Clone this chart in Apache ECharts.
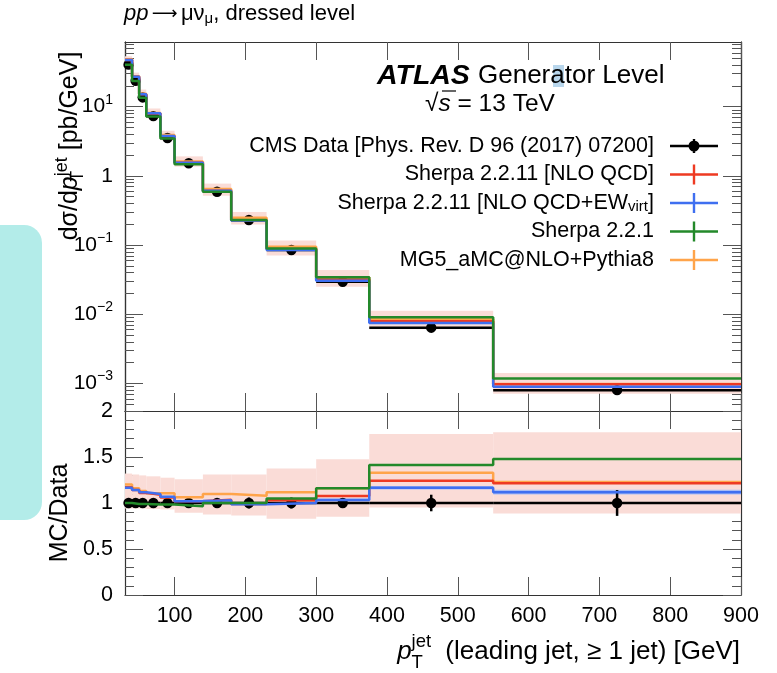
<!DOCTYPE html>
<html>
<head>
<meta charset="utf-8">
<script src="https://cdn.jsdelivr.net/npm/echarts@6/dist/echarts.min.js"></script>
<style>
html, body { margin: 0; padding: 0; background: #fff; }
#chart { width: 777px; height: 673px; }
</style>
</head>
<body>
<div id="chart"></div>
<script>
const FONT = '"Liberation Sans", Arial, Helvetica, sans-serif'

// leading jet pT bins [GeV]
const binEdges = [30, 40, 50, 60, 80, 100, 140, 180, 230, 300, 375, 550, 900]
// CMS data, dsigma/dpT [pb/GeV] and relative uncertainty
const cmsXsec = [40.5, 23.7, 13.6, 7.3, 3.52, 1.52, 0.59, 0.23, 0.085, 0.0295, 0.0064, 0.0008]
const cmsRelErr = [0.055, 0.05, 0.04, 0.03, 0.03, 0.04, 0.04, 0.06, 0.06, 0.05, 0.09, 0.14]
// MC / Data per bin
const ratioSherpaQCD = [1.17, 1.14, 1.11, 1.09, 1.06, 1.02, 1.035, 0.99, 1.03, 1.076, 1.243, 1.214]
const ratioSherpaEW = [1.166, 1.141, 1.116, 1.098, 1.068, 1.02, 1.03, 0.986, 1.0, 1.033, 1.166, 1.118]
const ratioSherpaEWErr = [0.01, 0.01, 0.01, 0.01, 0.01, 0.01, 0.01, 0.01, 0.01, 0.015, 0.02, 0.025]
const ratioSherpa221 = [1.0, 0.99, 0.99, 0.985, 0.985, 0.965, 1.0, 1.0, 1.05, 1.16, 1.413, 1.478]
const ratioMG5 = [1.2, 1.16, 1.13, 1.105, 1.105, 1.062, 1.098, 1.08, 1.116, 1.16, 1.33, 1.228]
// Sherpa 2.2.11 [NLO QCD] uncertainty band (ratio)
const bandLow = [0.94, 0.94, 0.94, 0.935, 0.93, 0.895, 0.875, 0.865, 0.83, 0.85, 0.95, 0.885]
const bandHigh = [1.32, 1.31, 1.3, 1.29, 1.275, 1.258, 1.31, 1.31, 1.375, 1.475, 1.75, 1.768]

const xTicks = [100, 200, 300, 400, 500, 600, 700, 800, 900]
const logMajor = [0.001, 0.01, 0.1, 1, 10]
const logMinor = []
logMajor.concat([1e-4]).forEach(d => { for (let k = 2; k <= 9; k++) logMinor.push(+(d * k).toPrecision(3)) })
const xsecRange = [4e-4, 86]
const ratioRange = [0, 2]

const NAMES = {
  cms: 'CMS Data [Phys. Rev. D 96 (2017) 07200]',
  qcd: 'Sherpa 2.2.11 [NLO QCD]',
  ew: 'Sherpa 2.2.11 [NLO QCD+EW_virt]',
  s221: 'Sherpa 2.2.1',
  mg5: 'MG5_aMC@NLO+Pythia8',
}
const COLORS = { qcd: '#ee3a22', ew: '#3f6ff0', s221: '#23892a', mg5: '#ffa44a' }

const nBins = binEdges.length - 1
const binCentres = binEdges.slice(0, -1).map((e, i) => (e + binEdges[i + 1]) / 2)

function stepPoints(vals) {
  const pts = vals.map((v, i) => [binEdges[i], v])
  pts.push([binEdges[nBins], vals[nBins - 1]])
  return pts
}
function times(a, b) { return a.map((v, i) => v * b[i]) }

function bandRender(fill) {
  return function (params, api) {
    const p0 = api.coord([api.value(0), api.value(3)])
    const p1 = api.coord([api.value(1), api.value(2)])
    return {
      type: 'rect',
      shape: { x: p0[0], y: p0[1], width: p1[0] - p0[0], height: p1[1] - p0[1] },
      style: { fill: fill },
    }
  }
}
function dataRender(params, api) {
  const a = api.coord([api.value(0), api.value(3)])
  const b = api.coord([api.value(1), api.value(3)])
  const c = api.coord([api.value(2), api.value(3)])
  const lo = api.coord([api.value(2), api.value(4)])
  const hi = api.coord([api.value(2), api.value(5)])
  return {
    type: 'group',
    children: [
      { type: 'line', shape: { x1: a[0], y1: a[1], x2: b[0], y2: b[1] }, style: { stroke: '#000', lineWidth: 2.5 } },
      { type: 'line', shape: { x1: c[0], y1: lo[1], x2: c[0], y2: hi[1] }, style: { stroke: '#000', lineWidth: 2.5 } },
      { type: 'circle', shape: { cx: c[0], cy: c[1], r: 5.2 }, style: { fill: '#000' } },
    ],
  }
}

function bandData(centre, lo, hi) {
  return centre.map((v, i) => [binEdges[i], binEdges[i + 1], v * lo[i], v * hi[i]])
}
function ones(n) { return new Array(n).fill(1) }

const topBand = bandData(cmsXsec, bandLow, bandHigh)
const botBand = bandData(ones(nBins), bandLow, bandHigh)
const ewLo = ratioSherpaEW.map((v, i) => v - ratioSherpaEWErr[i])
const ewHi = ratioSherpaEW.map((v, i) => v + ratioSherpaEWErr[i])
const topEwBand = bandData(cmsXsec, ewLo, ewHi)
const botEwBand = bandData(ones(nBins), ewLo, ewHi)
const topCms = cmsXsec.map((v, i) => [binEdges[i], binEdges[i + 1], binCentres[i], v, v * (1 - cmsRelErr[i]), v * (1 + cmsRelErr[i])])
const botCms = cmsXsec.map((v, i) => [binEdges[i], binEdges[i + 1], binCentres[i], 1, 1 - cmsRelErr[i], 1 + cmsRelErr[i]])

function stepSeries(key, ratio, top) {
  return {
    name: NAMES[key],
    type: 'line',
    step: 'end',
    xAxisIndex: top ? 0 : 2,
    yAxisIndex: top ? 0 : 4,
    symbol: 'none',
    lineStyle: { color: COLORS[key], width: 2.5 },
    itemStyle: { color: COLORS[key] },
    animation: false,
    data: stepPoints(top ? times(cmsXsec, ratio) : ratio),
  }
}
function customSeries(name, data, top, render, color) {
  return {
    name: name,
    type: 'custom',
    xAxisIndex: top ? 0 : 2,
    yAxisIndex: top ? 0 : 4,
    renderItem: render,
    itemStyle: { color: color },
    encode: { x: [0, 1], y: [3] },
    animation: false,
    data: data,
  }
}

const axisLineStyle = { lineStyle: { color: '#333', width: 1.2 } }
const tickStyle = { color: '#555', width: 1 }

function xAxisDef(grid, position, labels) {
  return {
    gridIndex: grid,
    type: 'value',
    position: position,
    min: binEdges[0],
    max: binEdges[nBins],
    axisLine: Object.assign({ show: true, onZero: false }, axisLineStyle),
    axisTick: { show: true, inside: true, length: 18, lineStyle: tickStyle, customValues: xTicks },
    axisLabel: {
      show: labels, customValues: xTicks, margin: 10,
      fontFamily: FONT, fontSize: 21.5, color: '#000',
    },
    splitLine: { show: false },
  }
}
function logAxisDef(position, major, labels) {
  return {
    gridIndex: 0,
    type: 'log',
    logBase: 10,
    position: position,
    min: xsecRange[0],
    max: xsecRange[1],
    axisLine: Object.assign({ show: true, onZero: false }, axisLineStyle),
    axisTick: { show: true, inside: true, length: major ? 18 : 9, lineStyle: tickStyle, customValues: major ? logMajor : logMinor },
    axisLabel: {
      show: labels,
      customValues: logMajor,
      margin: 12,
      formatter: v => {
        const e = Math.round(Math.log10(v))
        if (e === 0) return '{b|1}'
        return '{b|10}{s|' + (e < 0 ? '\u2212' + (-e) : e) + '}'
      },
      rich: {
        b: { fontFamily: FONT, fontSize: 21, color: '#000', lineHeight: 28 },
        s: { fontFamily: FONT, fontSize: 14, color: '#000', lineHeight: 14, verticalAlign: 'top' },
      },
    },
    splitLine: { show: false },
  }
}
function ratioAxisDef(position, labels) {
  return {
    gridIndex: 1,
    type: 'value',
    position: position,
    min: ratioRange[0],
    max: ratioRange[1],
    interval: 0.5,
    axisLine: Object.assign({ show: true, onZero: false }, axisLineStyle),
    axisTick: { show: true, inside: true, length: 18, lineStyle: tickStyle },
    minorTick: { show: true, splitNumber: 5, length: 9, lineStyle: tickStyle },
    axisLabel: {
      show: labels, margin: 12, fontFamily: FONT, fontSize: 21.5, color: '#000',
      formatter: v => String(v),
    },
    splitLine: { show: false },
    minorSplitLine: { show: false },
  }
}

const crossIcon = 'path://M0,8.8h48v2.4h-48z M22.8,0h2.4v20h-2.4z'
const dataIcon = 'path://M0,8.8h48v2.4h-48z M22.8,3h2.4v14h-2.4z M18.5,10a5.5,5.5 0 1,1 11,0a5.5,5.5 0 1,1 -11,0z'

// x-axis title pieces, placed from the measured width of the main part
const measureCtx = document.createElement('canvas').getContext('2d')
function textWidth(str, font) { measureCtx.font = font; return measureCtx.measureText(str).width }
const xTitleMain = ' (leading jet, \u2265 1 jet) [GeV]'
const xTitleRight = 740
const xMainLeft = xTitleRight - textWidth(xTitleMain, '26px ' + FONT) - 7
const xJetLeft = xMainLeft - textWidth('jet', '18.5px ' + FONT)
const xTitleY = 652

const chart = echarts.init(document.getElementById('chart'), null, { renderer: 'canvas' })
chart.setOption({
  backgroundColor: '#fff',
  animation: false,
  textStyle: { fontFamily: FONT },
  grid: [
    { left: 125, right: 36, top: 42, height: 369 },
    { left: 125, right: 36, top: 411, height: 184 },
  ],
  xAxis: [
    xAxisDef(0, 'bottom', false),
    xAxisDef(0, 'top', false),
    xAxisDef(1, 'bottom', true),
    xAxisDef(1, 'top', false),
  ],
  yAxis: [
    logAxisDef('left', true, true),
    logAxisDef('left', false, false),
    logAxisDef('right', true, false),
    logAxisDef('right', false, false),
    ratioAxisDef('left', true),
    ratioAxisDef('right', false),
  ],
  legend: {
    orient: 'vertical',
    right: 59,
    top: 135,
    padding: 0,
    align: 'right',
    itemWidth: 48,
    itemHeight: 20,
    itemGap: 6.5,
    selectedMode: false,
    textStyle: {
      fontFamily: FONT, fontSize: 21.5, color: '#000', padding: [0, 11, 0, 0],
      rich: {
        n: { fontFamily: FONT, fontSize: 21.5, color: '#000', lineHeight: 22 },
        sub: { fontFamily: FONT, fontSize: 15, color: '#000', lineHeight: 12, verticalAlign: 'bottom' },
      },
    },
    formatter: name => name === NAMES.ew
      ? '{n|Sherpa 2.2.11 [NLO QCD+EW}{sub|virt}{n|]}'
      : '{n|' + name + '}',
    data: [
      { name: NAMES.cms, icon: dataIcon },
      { name: NAMES.qcd, icon: crossIcon },
      { name: NAMES.ew, icon: crossIcon },
      { name: NAMES.s221, icon: crossIcon },
      { name: NAMES.mg5, icon: crossIcon },
    ],
  },
  series: [
    customSeries('band', topBand, true, bandRender('#fadcd7'), '#fadcd7'),
    customSeries('ewband', topEwBand, true, bandRender('#a9bdf5'), '#a9bdf5'),
    stepSeries('mg5', ratioMG5, true),
    stepSeries('qcd', ratioSherpaQCD, true),
    stepSeries('ew', ratioSherpaEW, true),
    stepSeries('s221', ratioSherpa221, true),
    customSeries(NAMES.cms, topCms, true, dataRender, '#000'),

    customSeries('band2', botBand, false, bandRender('#fadcd7'), '#fadcd7'),
    customSeries('ewband2', botEwBand, false, bandRender('#a9bdf5'), '#a9bdf5'),
    stepSeries('mg5', ratioMG5, false),
    stepSeries('qcd', ratioSherpaQCD, false),
    stepSeries('ew', ratioSherpaEW, false),
    stepSeries('s221', ratioSherpa221, false),
    customSeries(NAMES.cms, botCms, false, dataRender, '#000'),
  ],
  graphic: [
    { type: 'rect', z: -1, shape: { x: -20, y: 225, width: 62, height: 295, r: 18 }, style: { fill: '#b3ece9' } },
    { type: 'rect', z: -1, shape: { x: 553, y: 65, width: 11, height: 22 }, style: { fill: '#b8d6ec' } },
    {
      type: 'text', x: 124, y: 14,
      style: {
        text: '{i|pp} {a|\u27f6} {n|\u03bc\u03bd}{s|\u03bc}{n|, dressed level}',
        verticalAlign: 'middle',
        rich: {
          i: { fontFamily: FONT, fontSize: 22, fontStyle: 'italic', lineHeight: 24 },
          a: { fontFamily: '"DejaVu Sans", sans-serif', fontSize: 18, lineHeight: 24 },
          n: { fontFamily: FONT, fontSize: 22, lineHeight: 24 },
          s: { fontFamily: FONT, fontSize: 15, lineHeight: 14, verticalAlign: 'bottom' },
        },
      },
    },
    {
      type: 'text', x: 377, y: 76,
      style: { text: 'ATLAS', font: 'italic bold 28.5px ' + FONT, fill: '#000', verticalAlign: 'middle' },
    },
    {
      type: 'text', x: 478, y: 76,
      style: { text: 'Generator Level', font: '26px ' + FONT, fill: '#000', verticalAlign: 'middle' },
    },
    {
      type: 'text', x: 425, y: 104,
      style: {
        text: '{n|\u221a}{i|s}{n| = 13 TeV}',
        verticalAlign: 'middle',
        rich: {
          n: { fontFamily: FONT, fontSize: 24.5, color: '#000' },
          i: { fontFamily: FONT, fontSize: 24.5, fontStyle: 'italic', color: '#000' },
        },
      },
    },
    { type: 'line', shape: { x1: 442, y1: 91, x2: 456, y2: 91 }, style: { stroke: '#000', lineWidth: 1.2 } },
    {
      type: 'text', x: 70, y: 146, rotation: Math.PI / 2,
      style: {
        text: '{n|d\u03c3/d}{i|p}{t|T}{j|jet}{n| [pb/GeV]}',
        align: 'center', verticalAlign: 'middle',
        rich: {
          n: { fontFamily: FONT, fontSize: 25, color: '#000', lineHeight: 34 },
          i: { fontFamily: FONT, fontSize: 25, fontStyle: 'italic', color: '#000', lineHeight: 34 },
          t: { fontFamily: FONT, fontSize: 18, color: '#000', lineHeight: 16, verticalAlign: 'bottom', width: 0 },
          j: { fontFamily: FONT, fontSize: 18, color: '#000', lineHeight: 16, verticalAlign: 'top' },
        },
      },
    },
    {
      type: 'text', x: 60, y: 513, rotation: Math.PI / 2,
      style: { text: 'MC/Data', font: '25px ' + FONT, fill: '#000', align: 'center', verticalAlign: 'middle' },
    },
    {
      type: 'text', x: xTitleRight, y: xTitleY,
      style: { text: xTitleMain, font: '26px ' + FONT, fill: '#000', align: 'right', verticalAlign: 'middle' },
    },
    {
      type: 'text', x: xJetLeft, y: xTitleY - 10,
      style: { text: 'jet', font: '18.5px ' + FONT, fill: '#000', align: 'left', verticalAlign: 'middle' },
    },
    {
      type: 'text', x: xJetLeft, y: xTitleY + 11,
      style: { text: 'T', font: '18.5px ' + FONT, fill: '#000', align: 'left', verticalAlign: 'middle' },
    },
    {
      type: 'text', x: xJetLeft, y: xTitleY,
      style: { text: 'p', font: 'italic 26px ' + FONT, fill: '#000', align: 'right', verticalAlign: 'middle' },
    },
  ],
})
</script>
</body>
</html>
